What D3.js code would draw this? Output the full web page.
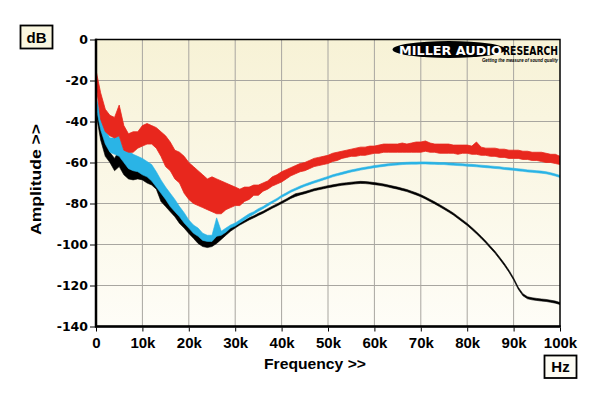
<!DOCTYPE html>
<html><head><meta charset="utf-8">
<script src="https://cdn.jsdelivr.net/npm/d3@7"></script>
<style>html,body{margin:0;padding:0;background:#fff;}svg{display:block;}</style>
</head><body><svg id="c" width="600" height="396"></svg>
<script>
// Frequency positions in kHz (shared by all three traces)
const freqK = d3.range(0, 101, 1);
// Red trace: upper / lower envelope of the noisy trace (dB)
const redHi = [-15,-26,-34,-37,-38,-32,-42,-46,-45,-45,
 -42,-41,-42,-43,-45,-47,-50,-54,-55,-57,
 -60,-62,-64,-66,-68,-67,-68,-69,-70,-71,
 -72,-73,-72,-72,-71,-71,-70,-69,-67,-66,
 -64.5,-63.5,-62.5,-61.5,-60.5,-60,-59,-58,-57.5,-57,
 -56.5,-55.5,-55,-54.5,-54,-53.5,-53,-52.5,-52.5,-52,
 -52,-51.5,-51,-51,-51,-51,-50.5,-51,-50.5,-50,
 -50,-49.5,-50.5,-51,-51,-51,-51,-51.5,-51.5,-51.5,
 -51.5,-52,-50,-52.5,-53,-53,-53,-53.5,-53.5,-54,
 -54,-54,-54.5,-54.5,-55,-55,-55,-55.5,-56,-56,
 -57];
const redLo = [-22,-39,-45,-47,-48,-47,-54,-55,-55,-53,
 -52,-51,-51,-53,-57,-62,-64,-68,-70,-75,
 -78,-80,-81,-82,-83,-84,-85,-85,-83,-82,
 -81,-81,-79,-78,-76,-76,-74,-73,-71.5,-70.5,
 -69.5,-68,-66.5,-65.5,-64.5,-64,-63,-62,-61.5,-61,
 -60.5,-59.5,-59,-58,-57.5,-57,-57,-56.5,-56.5,-56,
 -55.5,-55.5,-55,-55,-55,-55,-55,-55,-55,-55,
 -55,-54.5,-55,-55,-55.5,-55.5,-55.5,-55.5,-56,-55.5,
 -55.5,-56,-56,-56.5,-56.5,-57,-57,-57.5,-57.5,-58,
 -58,-58,-58.5,-58.5,-59,-59,-59.5,-60,-60,-60.5,
 -61];
// Blue trace envelopes
const blueHi = [-28,-37,-44,-48,-48,-47,-54,-54,-56,-57,
 -58,-59.5,-61,-64.5,-68.5,-72,-75,-78,-81.5,-84.5,
 -88,-90.5,-92,-94.5,-95.5,-95.5,-87,-93.5,-92,-90.5,
 -89.5,-88,-86.5,-85,-84,-82.5,-81.5,-80,-78.8,-77.5,
 -76,-74.8,-73.5,-72.5,-71.5,-70.6,-69.8,-69,-68.3,-67.5,
 -66.8,-66,-65.4,-64.8,-64.2,-63.6,-63.2,-62.7,-62.3,-61.9,
 -61.5,-61.2,-60.9,-60.6,-60.4,-60.2,-60,-59.9,-59.8,-59.8,
 -59.7,-59.7,-59.8,-59.9,-60,-60,-60.2,-60.3,-60.5,-60.6,
 -60.8,-60.9,-61.1,-61.3,-61.5,-61.7,-61.9,-62.1,-62.4,-62.6,
 -62.8,-63.1,-63.3,-63.6,-63.8,-64,-64.2,-64.5,-65,-65.6,
 -66.3];
const blueLo = [-33,-44,-51,-55,-56,-57,-60,-63,-64,-64.5,
 -66,-67,-69,-72,-75,-78,-81.5,-84,-86.5,-89.5,
 -92,-94.5,-96,-98,-98.5,-98.5,-96,-95.5,-94,-92,
 -91,-89.5,-88,-86.5,-85.2,-83.8,-82.5,-81.2,-79.8,-78.5,
 -77,-75.8,-74.5,-73.5,-72.5,-71.6,-70.8,-70,-69.3,-68.5,
 -67.8,-67,-66.4,-65.8,-65.2,-64.6,-64.2,-63.7,-63.3,-62.9,
 -62.5,-62.2,-61.9,-61.6,-61.4,-61.2,-61,-60.9,-60.8,-60.8,
 -60.7,-60.7,-60.8,-60.9,-61,-61,-61.2,-61.3,-61.5,-61.6,
 -61.8,-61.9,-62.1,-62.3,-62.5,-62.7,-62.9,-63.1,-63.4,-63.6,
 -63.8,-64.1,-64.3,-64.6,-64.8,-65,-65.2,-65.5,-66,-66.6,
 -67.3];
// Black trace envelopes
const blackHi = [-31,-41,-50,-55,-58,-54,-59,-62,-62,-62,
 -64,-65,-66,-67.5,-71.5,-75.5,-78,-81.5,-84.5,-88,
 -90.5,-93,-94.5,-97,-98,-97.5,-96,-95,-93.5,-92,
 -90.5,-89.5,-88.3,-87,-86,-84.8,-83.8,-82.5,-81.3,-80.2,
 -79,-77.8,-76.5,-75.2,-74.8,-74.2,-73.5,-72.8,-72.3,-71.8,
 -71.3,-70.9,-70.5,-70.1,-69.9,-69.6,-69.4,-69.2,-69.3,-69.5,
 -69.8,-70.1,-70.5,-71,-71.5,-72,-72.6,-73.2,-74,-74.8,
 -75.7,-76.8,-78,-79.2,-80.5,-81.8,-83.2,-84.6,-86.3,-88,
 -89.7,-91.7,-93.8,-96,-98.3,-100.8,-103.3,-106.2,-109.2,-112.5,
 -116.3,-120.8,-124,-125.5,-126,-126.3,-126.6,-126.8,-127.2,-127.6,
 -128.3];
const blackLo = [-36,-49,-57,-60,-64,-62,-66,-68,-68.5,-68,
 -68.5,-70,-71,-73,-79,-81.5,-84,-86.5,-89.7,-92,
 -94.6,-97,-99.5,-101,-101.5,-101,-99.5,-97.5,-95.5,-93.5,
 -92,-90.5,-89.3,-88,-87,-85.8,-84.8,-83.5,-82.3,-81.2,
 -80,-78.8,-77.5,-76.6,-75.8,-75.2,-74.5,-73.8,-73.3,-72.8,
 -72.3,-71.9,-71.5,-71.1,-70.9,-70.6,-70.4,-70.2,-70.3,-70.5,
 -70.8,-71.1,-71.5,-72,-72.5,-73,-73.6,-74.2,-75,-75.8,
 -76.7,-77.8,-79,-80.2,-81.5,-82.8,-84.2,-85.6,-87.3,-89,
 -90.7,-92.7,-94.8,-97,-99.3,-101.8,-104.3,-107.2,-110.2,-113.5,
 -117.3,-121.8,-125,-126.5,-127,-127.3,-127.6,-127.8,-128.2,-128.6,
 -129.3];
// Tick values and labels
const xTicks = [0,10,20,30,40,50,60,70,80,90,100];
const xTickLabels = ["0","10k","20k","30k","40k","50k","60k","70k","80k","90k","100k"];
const yTicks = [0,-20,-40,-60,-80,-100,-120,-140];
const yTickLabels = ["0","-20","-40","-60","-80","-100","-120","-140"];

const svg = d3.select("#c");
const L = 96, R = 560, T = 39.5, B = 326.5;
const x = d3.scaleLinear().domain([0,100]).range([L,R]);
const y = d3.scaleLinear().domain([0,-140]).range([T,B]);

const defs = svg.append("defs");
const grad = defs.append("linearGradient").attr("id","bg").attr("x1",0).attr("y1",0).attr("x2",0).attr("y2",1);
grad.append("stop").attr("offset","0%").attr("stop-color","#f7f2d6");
grad.append("stop").attr("offset","100%").attr("stop-color","#fefdf7");
defs.append("clipPath").attr("id","clip").append("rect")
  .attr("x",L).attr("y",T).attr("width",R-L).attr("height",B-T);

svg.append("rect").attr("x",L).attr("y",T).attr("width",R-L).attr("height",B-T).attr("fill","url(#bg)");

// grid
const grid = svg.append("g").attr("stroke","#a8a6a0").attr("stroke-width",1);
xTicks.slice(1,-1).forEach(t => grid.append("line").attr("x1",x(t)).attr("x2",x(t)).attr("y1",T).attr("y2",B));
yTicks.slice(1,-1).forEach(t => grid.append("line").attr("x1",L).attr("x2",R).attr("y1",y(t)).attr("y2",y(t)));

// logo
const logo = svg.append("g");
logo.append("ellipse").attr("cx",449).attr("cy",49.5).attr("rx",56.5).attr("ry",8.5).attr("fill","#000");
logo.append("text").attr("x",399).attr("y",54.5).attr("textLength",103).attr("lengthAdjust","spacingAndGlyphs")
  .attr("font-family","DejaVu Sans").attr("font-weight","bold").attr("font-size",12.5).attr("fill","#fff").text("MILLER AUDIO");
logo.append("text").attr("x",503).attr("y",54.5).attr("textLength",55).attr("lengthAdjust","spacingAndGlyphs")
  .attr("font-family","DejaVu Sans").attr("font-weight","bold").attr("font-size",12.5).attr("fill","#000").text("RESEARCH");
logo.append("text").attr("x",482).attr("y",62).attr("textLength",76).attr("lengthAdjust","spacingAndGlyphs")
  .attr("font-family","Liberation Sans").attr("font-weight","bold").attr("font-style","italic").attr("font-size",5.5).attr("fill","#000").text("Getting the measure of sound quality");

// traces: the band between the upper and lower envelope of each noisy trace
const band = (hi, lo) => d3.area().x((d,i) => x(freqK[i])).y0((d,i) => y(lo[i])).y1((d,i) => y(hi[i]))(freqK);
const traces = svg.append("g").attr("clip-path","url(#clip)").attr("stroke-linejoin","round");
traces.append("path").attr("d", band(blackHi, blackLo)).attr("fill","#000").attr("stroke","#000").attr("stroke-width",0.6);
traces.append("path").attr("d", band(blueHi, blueLo)).attr("fill","#2ab4e6").attr("stroke","#2ab4e6").attr("stroke-width",0.6);
traces.append("path").attr("d", band(redHi, redLo)).attr("fill","#e8271d").attr("stroke","#e8271d").attr("stroke-width",0.8);

// frame
svg.append("rect").attr("x",L).attr("y",T).attr("width",R-L).attr("height",B-T)
  .attr("fill","none").attr("stroke","#000").attr("stroke-width",1.5);
svg.append("line").attr("x1",L).attr("x2",L).attr("y1",T-0.75).attr("y2",B+1).attr("stroke","#000").attr("stroke-width",2.5);
svg.append("line").attr("x1",L-1).attr("x2",R+0.75).attr("y1",B).attr("y2",B).attr("stroke","#000").attr("stroke-width",2.5);

// axes
const yAxis = svg.append("g").attr("transform",`translate(${L-1},0)`)
  .call(d3.axisLeft(y).tickValues(yTicks).tickFormat((d,i)=>yTickLabels[i]).tickSize(5).tickPadding(2));
yAxis.select(".domain").remove();
yAxis.selectAll("text").attr("font-family","DejaVu Sans").attr("font-weight","bold").attr("font-size",12.5).attr("fill","#000");
const xAxis = svg.append("g").attr("transform",`translate(0,${B+1})`)
  .call(d3.axisBottom(x).tickValues(xTicks).tickFormat((d,i)=>xTickLabels[i]).tickSize(4).tickPadding(6));
xAxis.select(".domain").remove();
xAxis.selectAll("text").attr("font-family","Liberation Sans").attr("font-weight","bold").attr("font-size",15).attr("fill","#000");

// titles
svg.append("text").attr("x",264).attr("y",369).attr("textLength",102).attr("lengthAdjust","spacingAndGlyphs")
  .attr("font-family","Liberation Sans").attr("font-weight","bold").attr("font-size",15).text("Frequency >>");
svg.append("text").attr("transform","translate(41,235) rotate(-90)").attr("textLength",111).attr("lengthAdjust","spacingAndGlyphs")
  .attr("font-family","Liberation Sans").attr("font-weight","bold").attr("font-size",15).text("Amplitude >>");

// unit boxes
svg.append("rect").attr("x",20.5).attr("y",25.5).attr("width",32).attr("height",23).attr("fill","#f9f6df").attr("stroke","#000").attr("stroke-width",1.8);
svg.append("text").attr("x",36.5).attr("y",42.5).attr("text-anchor","middle").attr("font-family","Liberation Sans").attr("font-weight","bold").attr("font-size",15).text("dB");
svg.append("rect").attr("x",544.5).attr("y",355.5).attr("width",32).attr("height",22.5).attr("fill","#fdfcf4").attr("stroke","#000").attr("stroke-width",1.8);
svg.append("text").attr("x",560.5).attr("y",372).attr("text-anchor","middle").attr("font-family","Liberation Sans").attr("font-weight","bold").attr("font-size",15).text("Hz");
</script></body></html>
